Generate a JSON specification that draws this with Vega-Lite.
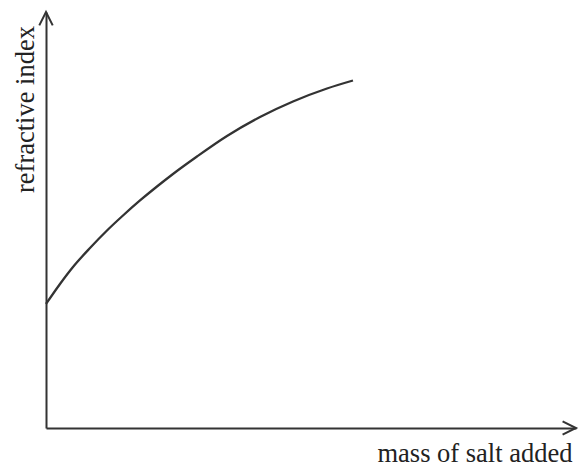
{
  "$schema": "https://vega.github.io/schema/vega-lite/v6.json",
  "width": 530,
  "height": 416,
  "autosize": {"type": "none"},
  "padding": {"left": 46, "top": 12, "right": 3, "bottom": 38},
  "background": "white",
  "config": {"view": {"stroke": null}},
  "layer": [
    {
      "data": {"values": [
        {"mass": 0, "refractive_index": 29.81},
        {"mass": 2.64, "refractive_index": 34.62},
        {"mass": 5.09, "refractive_index": 38.70},
        {"mass": 8.30, "refractive_index": 43.27},
        {"mass": 11.51, "refractive_index": 47.48},
        {"mass": 14.53, "refractive_index": 51.08},
        {"mass": 17.74, "refractive_index": 54.69},
        {"mass": 20.94, "refractive_index": 58.05},
        {"mass": 23.96, "refractive_index": 61.06},
        {"mass": 28.49, "refractive_index": 65.26},
        {"mass": 34.15, "refractive_index": 70.19},
        {"mass": 40.38, "refractive_index": 74.76},
        {"mass": 46.60, "refractive_index": 78.49},
        {"mass": 53.02, "refractive_index": 81.61},
        {"mass": 57.92, "refractive_index": 83.53}
      ]},
      "mark": {"type": "line", "interpolate": "monotone", "color": "#333", "strokeWidth": 2.3},
      "encoding": {
        "x": {"field": "mass", "type": "quantitative", "scale": {"domain": [0, 100], "nice": false},
          "axis": {"title": "mass of salt added", "domain": true, "domainColor": "#333", "domainWidth": 2, "ticks": false, "labels": false, "grid": false,
            "titleFont": "Liberation Serif", "titleFontSize": 26.5, "titleFontWeight": "normal", "titleColor": "#222",
            "titleAlign": "right", "titleX": 526, "titleY": 33, "titleBaseline": "alphabetic"}},
        "y": {"field": "refractive_index", "type": "quantitative", "scale": {"domain": [0, 100], "nice": false},
          "axis": {"title": "refractive index", "domain": true, "domainColor": "#333", "domainWidth": 2, "ticks": false, "labels": false, "grid": false,
            "titleFont": "Liberation Serif", "titleFontSize": 26.5, "titleFontWeight": "normal", "titleColor": "#222",
            "titleAngle": -90, "titleAlign": "center", "titleX": -13, "titleY": 97, "titleBaseline": "alphabetic"}}
      }
    },
    {
      "data": {"values": [
        {"mass": 0, "refractive_index": 100, "dir": 0},
        {"mass": 100, "refractive_index": 0, "dir": 90}
      ]},
      "mark": {"type": "point", "shape": "M-1,2L0,0L1,2", "filled": false, "size": 180, "strokeWidth": 2, "color": "#333", "opacity": 1},
      "encoding": {
        "x": {"field": "mass", "type": "quantitative"},
        "y": {"field": "refractive_index", "type": "quantitative"},
        "angle": {"field": "dir", "type": "quantitative", "scale": null}
      }
    }
  ]
}
